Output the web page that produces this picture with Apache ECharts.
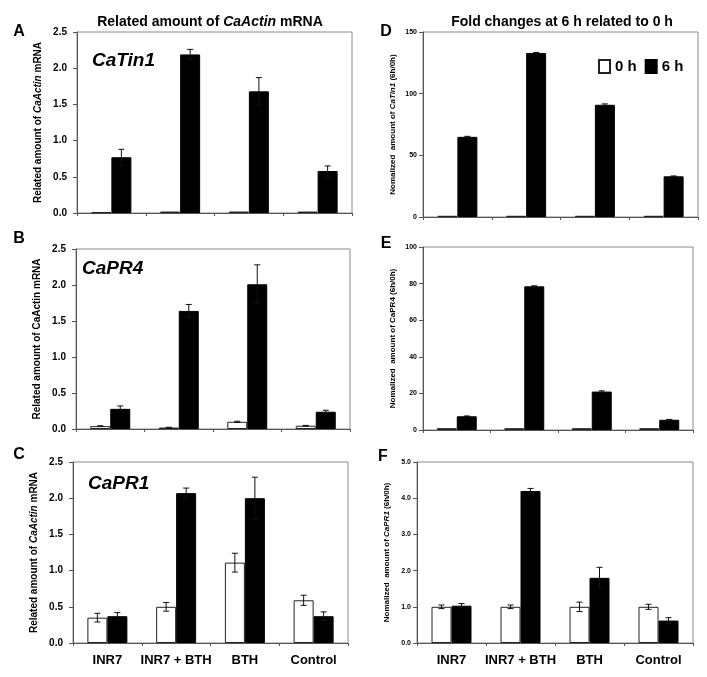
<!DOCTYPE html>
<html>
<head>
<meta charset="utf-8">
<script src="https://cdn.jsdelivr.net/npm/echarts@6/dist/echarts.min.js"></script>
<style>html,body{margin:0;padding:0;background:#fff}#c{width:707px;height:677px}</style>
</head>
<body>
<div id="c"></div>
<script>
const categories = ['INR7', 'INR7 + BTH', 'BTH', 'Control'];
const seriesNames = ['0 h', '6 h'];

// Panel A: CaTin1, related amount
const a0h = [0.01, 0.02, 0.02, 0.02];
const a6h = [0.77, 2.19, 1.68, 0.58];
const a0hErr = [0, 0, 0, 0];
const a6hErr = [0.11, 0.07, 0.19, 0.07];
// Panel B: CaPR4, related amount
const b0h = [0.04, 0.02, 0.10, 0.045];
const b6h = [0.28, 1.64, 2.01, 0.24];
const b0hErr = [0.005, 0.004, 0.008, 0.005];
const b6hErr = [0.04, 0.09, 0.27, 0.02];
// Panel C: CaPR1, related amount
const c0h = [0.35, 0.50, 1.11, 0.59];
const c6h = [0.37, 2.07, 2.00, 0.37];
const c0hErr = [0.06, 0.06, 0.13, 0.07];
const c6hErr = [0.05, 0.07, 0.29, 0.06];
// Panel D: CaTin1 fold change
const d0h = [1, 1, 1, 1];
const d6h = [65, 133, 91, 33];
const d0hErr = [0, 0, 0, 0];
const d6hErr = [0.4, 0.4, 0.7, 0.3];
// Panel E: CaPR4 fold change
const e0h = [1, 1, 1, 1];
const e6h = [7.5, 78.5, 21, 5.6];
const e0hErr = [0, 0, 0, 0];
const e6hErr = [0.2, 0.3, 0.4, 0.2];
// Panel F: CaPR1 fold change
const f0h = [1, 1, 1, 1];
const f6h = [1.03, 4.20, 1.80, 0.62];
const f0hErr = [0.05, 0.05, 0.13, 0.07];
const f6hErr = [0.06, 0.07, 0.29, 0.08];

// Axis ticks
const relTicks = {min: 0, max: 2.5, interval: 0.5, dec: 1};
const dTicks = {min: 0, max: 150, interval: 50, dec: 0};
const eTicks = {min: 0, max: 100, interval: 20, dec: 0};
const fTicks = {min: 0, max: 5, interval: 1, dec: 1};

const FONT = 'Liberation Sans, Arial, sans-serif';

const panels = [
  {h0: a0h, h6: a6h, e0: a0hErr, e6: a6hErr, ticks: relTicks, grid: {left: 77, top: 32, width: 275, height: 181},
   name: ['Related amount of ', 'CaActin', ' mRNA'], italic: true, labels: false, big: true},
  {h0: b0h, h6: b6h, e0: b0hErr, e6: b6hErr, ticks: relTicks, grid: {left: 76, top: 249, width: 274, height: 180},
   name: ['Related amount of ', 'CaActin', ' mRNA'], italic: false, labels: false, big: true},
  {h0: c0h, h6: c6h, e0: c0hErr, e6: c6hErr, ticks: relTicks, grid: {left: 73, top: 462, width: 275, height: 181},
   name: ['Related amount of ', 'CaActin', ' mRNA'], italic: true, labels: true, big: true},
  {h0: d0h, h6: d6h, e0: d0hErr, e6: d6hErr, ticks: dTicks, grid: {left: 423, top: 32, width: 275, height: 185},
   name: ['Nomalized  amount of ', 'CaTin1', ' (6h/0h)'], italic: true, labels: false, big: false},
  {h0: e0h, h6: e6h, e0: e0hErr, e6: e6hErr, ticks: eTicks, grid: {left: 423, top: 247, width: 270, height: 183},
   name: ['Nomalized  amount of ', 'CaPR4', ' (6h/0h)'], italic: false, labels: false, big: false},
  {h0: f0h, h6: f6h, e0: f0hErr, e6: f6hErr, ticks: fTicks, grid: {left: 417, top: 462, width: 276, height: 181},
   name: ['Nomalized  amount of ', 'CaPR1', ' (6h/0h)'], italic: true, labels: true, big: false}
];

const BAR_W = 20;
const grid = [], xAxis = [], yAxis = [], series = [];

function errRender(offset) {
  return function (params, api) {
    const x = api.value(0), v = api.value(1), e = api.value(2);
    if (!e) return null;
    const top = api.coord([x, v + e]);
    const bot = api.coord([x, v - e]);
    const cx = top[0] + offset;
    const cap = 3;
    const st = {stroke: '#111', lineWidth: 1};
    return {
      type: 'group',
      children: [
        {type: 'line', shape: {x1: cx, y1: top[1], x2: cx, y2: bot[1]}, style: st},
        {type: 'line', shape: {x1: cx - cap, y1: top[1], x2: cx + cap, y2: top[1]}, style: st},
        {type: 'line', shape: {x1: cx - cap, y1: bot[1], x2: cx + cap, y2: bot[1]}, style: st}
      ]
    };
  };
}

panels.forEach((p, i) => {
  grid.push(Object.assign({show: true, borderColor: '#8a8a8a', borderWidth: 1, backgroundColor: '#fff'}, p.grid));
  xAxis.push({
    type: 'category', gridIndex: i, data: categories,
    axisLine: {show: true, lineStyle: {color: '#555', width: 1}},
    axisTick: {show: true, length: 3, lineStyle: {color: '#555'}},
    axisLabel: {show: p.labels, interval: 0, hideOverlap: false, fontFamily: FONT, fontWeight: 'bold',
      fontSize: 13, color: '#000', margin: 11},
    splitLine: {show: false}
  });
  const rich = {
    a: {fontFamily: FONT, fontWeight: 'bold', fontSize: p.big ? 10 : 8, color: '#000'},
    i: {fontFamily: FONT, fontWeight: 'bold', fontStyle: p.italic ? 'italic' : 'normal', fontSize: p.big ? 10 : 8, color: '#000'}
  };
  yAxis.push({
    type: 'value', gridIndex: i,
    min: p.ticks.min, max: p.ticks.max, interval: p.ticks.interval,
    name: '{a|' + p.name[0] + '}{i|' + p.name[1] + '}{a|' + p.name[2] + '}',
    nameLocation: 'middle', nameRotate: 90, nameGap: p.big ? 34 : 26,
    nameTextStyle: {rich: rich},
    axisLine: {show: true, lineStyle: {color: '#555', width: 1}},
    axisTick: {show: true, length: 4, lineStyle: {color: '#555'}},
    axisLabel: {fontFamily: FONT, fontWeight: 'bold', fontSize: p.big ? 10 : 7, color: '#000',
      margin: p.big ? 10 : 6, formatter: (v) => v.toFixed(p.ticks.dec)},
    splitLine: {show: false}
  });
  series.push({
    name: seriesNames[0], type: 'bar', xAxisIndex: i, yAxisIndex: i, data: p.h0,
    barWidth: BAR_W, barGap: '0%',
    itemStyle: {color: '#fff', borderColor: '#222', borderWidth: 1}
  });
  series.push({
    name: seriesNames[1], type: 'bar', xAxisIndex: i, yAxisIndex: i, data: p.h6,
    barWidth: BAR_W, barGap: '0%',
    itemStyle: {color: '#000', borderColor: '#000', borderWidth: 1}
  });
  series.push({
    type: 'custom', xAxisIndex: i, yAxisIndex: i, z: 5, silent: true,
    renderItem: errRender(-BAR_W / 2),
    data: p.h0.map((v, k) => [k, v, p.e0[k]])
  });
  series.push({
    type: 'custom', xAxisIndex: i, yAxisIndex: i, z: 5, silent: true,
    renderItem: errRender(BAR_W / 2),
    data: p.h6.map((v, k) => [k, v, p.e6[k]])
  });
});

function txt(x, y, text, size, style, align) {
  return {type: 'text', x: x, y: y, style: {text: text, font: (style || '') + ' bold ' + size + 'px ' + FONT,
    fill: '#000', align: align || 'center', verticalAlign: 'middle'}};
}

const graphic = [
  {type: 'text', x: 210, y: 22, style: {
    text: '{a|Related amount of }{i|CaActin}{a| mRNA}', align: 'center', verticalAlign: 'middle',
    rich: {a: {fontFamily: FONT, fontWeight: 'bold', fontSize: 14, fill: '#000'},
           i: {fontFamily: FONT, fontWeight: 'bold', fontStyle: 'italic', fontSize: 14, fill: '#000'}}}},
  txt(562, 22, 'Fold changes at 6 h related to 0 h', 14),
  txt(19, 32, 'A', 16), txt(19, 239, 'B', 16), txt(19, 455, 'C', 16),
  txt(386, 32, 'D', 16), txt(386, 244, 'E', 16), txt(383, 457, 'F', 16),
  txt(92, 61, 'CaTin1', 19, 'italic', 'left'),
  txt(82, 269, 'CaPR4', 19, 'italic', 'left'),
  txt(88, 484, 'CaPR1', 19, 'italic', 'left')
];

const chart = echarts.init(document.getElementById('c'), null, {renderer: 'canvas'});
chart.setOption({
  animation: false,
  backgroundColor: '#fff',
  grid: grid, xAxis: xAxis, yAxis: yAxis, series: series, graphic: graphic,
  legend: {
    data: seriesNames, left: 593, top: 54, itemWidth: 11, itemHeight: 13, itemGap: 8,
    icon: 'rect', selectedMode: false,
    textStyle: {fontFamily: FONT, fontWeight: 'bold', fontSize: 15, color: '#000'}
  }
});
</script>
</body>
</html>
